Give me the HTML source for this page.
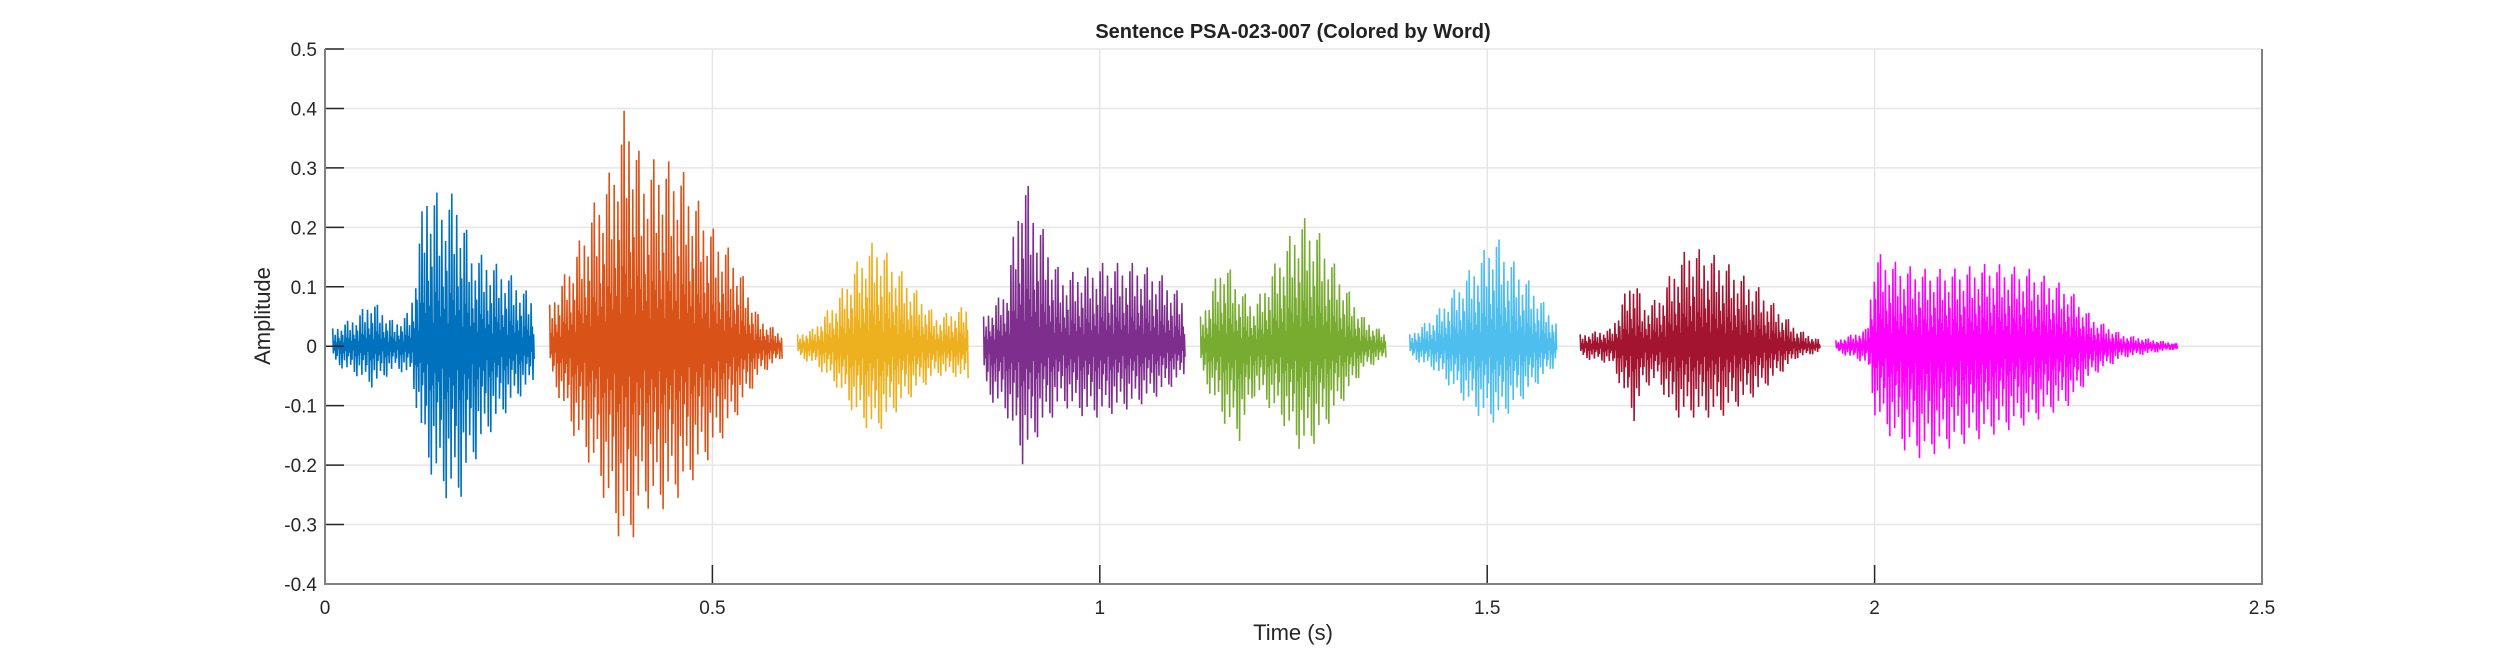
<!DOCTYPE html>
<html><head><meta charset="utf-8">
<style>
html,body{margin:0;padding:0;background:#fff;}
svg{display:block;font-family:"Liberation Sans",Arial,sans-serif;}
</style></head>
<body>
<svg id="chart" width="2500" height="657" viewBox="0 0 2500 657" xmlns="http://www.w3.org/2000/svg">
  <rect x="0" y="0" width="2500" height="657" fill="#fff"/>
  <g id="grid"></g>
  <g id="waves"></g>
  <g id="axes"></g>
  <text x="1293" y="38" text-anchor="middle" font-size="20" font-weight="bold" fill="#222">Sentence PSA-023-007 (Colored by Word)</text>
  <text x="1293" y="640" text-anchor="middle" font-size="22" fill="#262626">Time (s)</text>
  <text transform="translate(270,316) rotate(-90)" text-anchor="middle" font-size="22" fill="#262626">Amplitude</text>
</svg>
<script>
const xTicks = [0, 0.5, 1, 1.5, 2, 2.5];
const yTicks = [-0.4, -0.3, -0.2, -0.1, 0, 0.1, 0.2, 0.3, 0.4, 0.5];
const wordNames = ["word-1","word-2","word-3","word-4","word-5","word-6","word-7","word-8"];
const wordColors = ["#0072BD","#D95319","#EDB120","#7E2F8E","#77AC30","#4DBEEE","#A2142F","#FF00FF"];
const w1T = [0.01,0.04,0.06,0.09,0.11,0.13,0.15,0.17,0.19,0.21,0.24,0.27];
const w1P = [0.03,0.05,0.08,0.04,0.06,0.28,0.25,0.26,0.16,0.15,0.12,0.08];
const w1N = [-0.03,-0.05,-0.07,-0.04,-0.05,-0.2,-0.25,-0.27,-0.2,-0.15,-0.1,-0.06];
const w2T = [0.29,0.32,0.35,0.37,0.39,0.41,0.43,0.46,0.50,0.53,0.56,0.59];
const w2P = [0.07,0.15,0.25,0.3,0.42,0.3,0.32,0.3,0.2,0.15,0.05,0.02];
const w2N = [-0.05,-0.15,-0.22,-0.3,-0.35,-0.27,-0.28,-0.25,-0.18,-0.12,-0.05,-0.02];
const w3T = [0.61,0.63,0.66,0.69,0.71,0.73,0.76,0.79,0.81,0.83];
const w3P = [0.02,0.03,0.08,0.15,0.18,0.15,0.1,0.05,0.06,0.07];
const w3N = [-0.02,-0.03,-0.07,-0.13,-0.15,-0.12,-0.08,-0.05,-0.05,-0.06];
const w4T = [0.85,0.88,0.90,0.92,0.95,0.98,1.00,1.05,1.08,1.11];
const w4P = [0.05,0.1,0.3,0.22,0.12,0.13,0.14,0.14,0.12,0.08];
const w4N = [-0.08,-0.12,-0.2,-0.15,-0.1,-0.12,-0.12,-0.1,-0.08,-0.05];
const w5T = [1.13,1.16,1.18,1.20,1.23,1.26,1.28,1.31,1.34,1.37];
const w5P = [0.05,0.15,0.1,0.07,0.15,0.22,0.2,0.12,0.05,0.02];
const w5N = [-0.05,-0.13,-0.16,-0.08,-0.12,-0.18,-0.16,-0.1,-0.04,-0.02];
const w6T = [1.40,1.43,1.46,1.49,1.51,1.53,1.56,1.59];
const w6P = [0.02,0.05,0.1,0.15,0.19,0.15,0.1,0.04];
const w6N = [-0.02,-0.04,-0.08,-0.12,-0.13,-0.11,-0.07,-0.03];
const w7T = [1.62,1.66,1.69,1.70,1.72,1.74,1.76,1.80,1.85,1.90,1.93];
const w7P = [0.02,0.03,0.13,0.07,0.08,0.13,0.17,0.15,0.1,0.03,0.01];
const w7N = [-0.02,-0.03,-0.13,-0.07,-0.06,-0.12,-0.12,-0.12,-0.08,-0.02,-0.01];
const w8T = [1.95,1.99,2.00,2.03,2.06,2.10,2.15,2.20,2.25,2.28,2.32,2.39];
const w8P = [0.01,0.03,0.16,0.14,0.13,0.13,0.14,0.13,0.1,0.05,0.02,0.005];
const w8N = [-0.01,-0.03,-0.12,-0.17,-0.19,-0.17,-0.15,-0.13,-0.1,-0.05,-0.02,-0.005];
const wordT = [w1T,w2T,w3T,w4T,w5T,w6T,w7T,w8T];
const wordP = [w1P,w2P,w3P,w4P,w5P,w6P,w7P,w8P];
const wordN = [w1N,w2N,w3N,w4N,w5N,w6N,w7N,w8N];

const L=325, R=2262, T=49, B=584;
const xMin=0, xMax=2.5, yMin=-0.4, yMax=0.5;
function xs(v){return L+(v-xMin)/(xMax-xMin)*(R-L);}
function ys(v){return B-(v-yMin)/(yMax-yMin)*(B-T);}
const NS="http://www.w3.org/2000/svg";
function mk(tag,attrs,parent){const e=document.createElementNS(NS,tag);for(const k in attrs)e.setAttribute(k,attrs[k]);parent.appendChild(e);return e;}
const grid=document.getElementById('grid'), axes=document.getElementById('axes'), waves=document.getElementById('waves');

xTicks.forEach(t=>{
  const g=mk('line',{x1:xs(t),x2:xs(t),y1:T,y2:B,stroke:'#e6e6e6','stroke-width':1.5},grid);
  
  
  const tk=mk('line',{x1:xs(t),x2:xs(t),y1:B,y2:B-19,stroke:'#262626','stroke-width':1.5},axes);
  
  
  const lb=mk('text',{x:xs(t),y:B+30,'text-anchor':'middle','font-size':19,fill:'#262626'},axes);
  lb.textContent=String(t);
  
  
});
yTicks.forEach(t=>{
  const g=mk('line',{x1:L,x2:R,y1:ys(t),y2:ys(t),stroke:'#e6e6e6','stroke-width':1.5},grid);
  
  
  const tk=mk('line',{x1:L,x2:L+19,y1:ys(t),y2:ys(t),stroke:'#262626','stroke-width':1.5},axes);
  
  
  const lb=mk('text',{x:L-8,y:ys(t)+7,'text-anchor':'end','font-size':19,fill:'#262626'},axes);
  lb.textContent=(Math.round(t*10)/10).toString();
  
  
});
const ax=mk('path',{d:`M${L},${T} L${L},${B} L${R},${B} L${R},${T}`,fill:'none',stroke:'#808080','stroke-width':2},axes);



function interp(ts,vs,t){
  if(t<=ts[0])return vs[0];
  for(let i=1;i<ts.length;i++){if(t<=ts[i]){const f=(t-ts[i-1])/(ts[i]-ts[i-1]);return vs[i-1]+f*(vs[i]-vs[i-1]);}}
  return vs[vs.length-1];
}
const pattern=[1,0.3,0.6,0.2,0.85,0.4,0.25,0.7,0.5,0.15,0.9,0.35];
for(let w=0;w<wordNames.length;w++){
  const ts=wordT[w], ps=wordP[w], ns=wordN[w];
  const t0=ts[0], t1=ts[ts.length-1];
  const step=0.0016;
  let d='', k=0;
  for(let t=t0;t<=t1;t+=step,k++){
    const f=pattern[k%pattern.length];
    const g=pattern[(k+5)%pattern.length];
    const yp=ys(interp(ts,ps,t)*f);
    const yn=ys(interp(ts,ns,t)*g);
    d+=(k===0?'M':'L')+xs(t).toFixed(1)+','+yp.toFixed(1)+' L'+xs(t+step/2).toFixed(1)+','+yn.toFixed(1)+' ';
  }
  const p=mk('path',{d:d,fill:'none',stroke:wordColors[w],'stroke-width':1.6,'stroke-linejoin':'miter'},waves);
  
  
}
</script>
</body></html>
